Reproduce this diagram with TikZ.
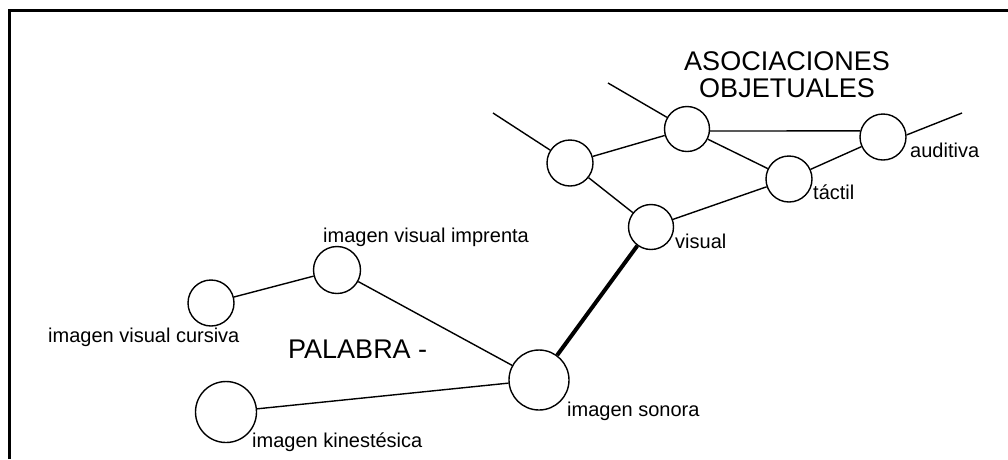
\documentclass[tikz,border=0pt]{standalone}
\usepackage{fontspec}
\setmainfont{Liberation Sans}
\begin{document}
\begin{tikzpicture}[x=1pt,y=-1pt,
  nd/.style={draw,circle,inner sep=0pt,line width=1.4pt,minimum size=#1},
  lbl/.style={anchor=base west,inner sep=0pt,font=\fontsize{20}{24}\selectfont},
  big/.style={inner sep=0pt,font=\fontsize{27}{30}\selectfont},
  cn/.style={line width=1.4pt},
  thickcn/.style={line width=4pt},
  frame/.style={line width=3pt}]
\useasboundingbox (0,0) rectangle (1008,459);
% frame
\coordinate (fbl) at (9.5,459);
\coordinate (ftl) at (9.5,10);
\coordinate (ftr) at (1008,10);
\draw[frame] (fbl) -- (ftl) -- (ftr);
% circles
\node[nd=46pt] (A) at (570,163) {};
\node[nd=45pt] (B) at (687,129) {};
\node[nd=46pt] (aud) at (883,137) {};
\node[nd=46pt] (tac) at (789,179) {};
\node[nd=45pt] (vis) at (651,227) {};
\node[nd=47pt] (imp) at (337,270) {};
\node[nd=46pt] (cur) at (211,303) {};
\node[nd=61pt] (kin) at (226,412) {};
\node[nd=60pt] (son) at (539,380) {};
% free ends
\coordinate (e1) at (493,113);
\coordinate (e2) at (608,83);
\coordinate (e3) at (962,113);
% connectors
\draw[cn] (e1) -- (A);
\draw[cn] (e2) -- (B);
\draw[cn] (aud.5) -- (e3);
\draw[cn] (A) -- (B);
\draw[cn] (A) -- (vis);
\draw[cn] (B.-5) -- (aud.165);
\draw[cn] (B) -- (tac);
\draw[cn] (tac) -- (aud);
\draw[cn] (vis) -- (tac);
\draw[thickcn] (son) -- (vis);
\draw[cn] (cur) -- (imp);
\draw[cn] (imp) -- (son);
\draw[cn] (kin) -- (son);
% labels
\node[big,anchor=base] (t1) at (787,70) {ASOCIACIONES};
\node[big,anchor=base] (t2) at (787,97) {OBJETUALES};
\node[big,anchor=base west] (pal) at (288,358) {PALABRA -};
\node[lbl] (laud) at (910,157) {auditiva};
\node[lbl] (ltac) at (813,199) {táctil};
\node[lbl] (lvis) at (675,248) {visual};
\node[lbl] (limp) at (323,242) {imagen visual imprenta};
\node[lbl] (lcur) at (48,342) {imagen visual cursiva};
\node[lbl] (lson) at (567,416) {imagen sonora};
\node[lbl] (lkin) at (252,447) {imagen kinestésica};
\end{tikzpicture}
\end{document}
